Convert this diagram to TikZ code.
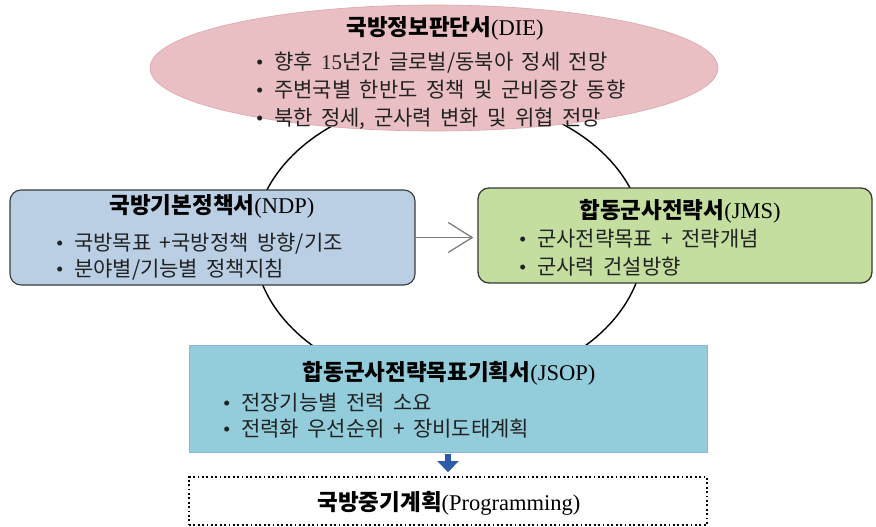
\documentclass[tikz,border=0pt]{standalone}
\usepackage{fontspec}
\setmainfont{Liberation Serif}
\newfontfamily\kr[WordSpace=1.8]{Noto Sans CJK KR}
\usetikzlibrary{arrows.meta,shapes.geometric}
\definecolor{diefill}{HTML}{E9BFC3}
\definecolor{diedraw}{HTML}{D9A6AC}
\definecolor{ndpfill}{HTML}{BACFE4}
\definecolor{jmsfill}{HTML}{C4DEA0}
\definecolor{jsopfill}{HTML}{93CDDB}
\definecolor{jsopdraw}{HTML}{8FB2E0}
\definecolor{boxdraw}{HTML}{3A3A3A}
\definecolor{txt}{HTML}{222222}
\definecolor{arrgray}{HTML}{7A7A7A}
\definecolor{arrblue}{HTML}{2C5CA9}
\begin{document}
\begin{tikzpicture}[x=1pt,y=-1pt,
  ttl/.style={anchor=base, inner sep=0pt, font=\fontsize{22.5}{26}\selectfont, text=black},
  bul/.style={anchor=base west, inner sep=0pt, font=\fontsize{21}{25}\selectfont, text=txt},
  cyc/.style={draw=black, line width=1.4pt, ellipse, inner sep=0pt},
  dieshape/.style={ellipse, fill=diefill, draw=diedraw, line width=0.6pt, inner sep=0pt},
  ndpbox/.style={rectangle, rounded corners=11pt, fill=ndpfill, draw=boxdraw, line width=1.1pt, inner sep=0pt},
  jmsbox/.style={rectangle, rounded corners=11pt, fill=jmsfill, draw=boxdraw, line width=1.3pt, inner sep=0pt},
  jsopbox/.style={rectangle, fill=jsopfill, draw=jsopdraw, line width=1pt, inner sep=0pt},
  progbox/.style={rectangle, draw=black, line width=1.8pt, dash pattern=on 1.8pt off 2.6pt, inner sep=0pt},
  grayarr/.style={draw=arrgray, line width=1.2pt, -{Straight Barb[length=24pt,width=30pt,line width=1.2pt]}, shorten >=4pt},
  bluearr/.style={draw=arrblue, line width=6pt, -{Triangle[length=11pt,width=21pt]}, shorten <=1pt, shorten >=4pt}
]
\useasboundingbox (0,0) rectangle (876,527);
\fill[white] (0,0) rectangle (876,527);

% cycle
\node[cyc, minimum width=390pt, minimum height=290pt] (cycle) at (449,242) {};

% DIE
\node[dieshape, minimum width=568pt, minimum height=126pt] (die) at (434,68) {};
\node[ttl] (dieT) at (445,36) {{\kr\bfseries 국방정보판단서}(DIE)};
\node[bul] (die1) at (256,70) {•\ \ {\kr 향후 }15{\kr 년간 글로벌/동북아 정세 전망}};
\node[bul] (die2) at (256,98) {•\ \ {\kr 주변국별 한반도 정책 및 군비증강 동향}};
\node[bul] (die3) at (256,125) {•\ \ {\kr 북한 정세, 군사력 변화 및 위협 전망}};

% NDP
\node[ndpbox, minimum width=405pt, minimum height=95pt] (ndp) at (212.5,237.5) {};
\node[ttl] (ndpT) at (212,213) {{\kr\bfseries 국방기본정책서}(NDP)};
\node[bul] (ndp1) at (56,250) {•\ \ {\kr 국방목표 +국방정책 방향/기조}};
\node[bul] (ndp2) at (56,276) {•\ \ {\kr 분야별/기능별 정책지침}};

% JMS
\node[jmsbox, minimum width=394pt, minimum height=95pt] (jms) at (675,235.5) {};
\node[ttl] (jmsT) at (680,218) {{\kr\bfseries 합동군사전략서}(JMS)};
\node[bul] (jms1) at (519,246) {•\ \ {\kr 군사전략목표 + 전략개념}};
\node[bul] (jms2) at (519,274) {•\ \ {\kr 군사력 건설방향}};

% arrow NDP -> JMS
\draw[grayarr] (ndp.east) -- (ndp.east -| jms.west);

% JSOP
\node[jsopbox, minimum width=518pt, minimum height=107pt] (jsop) at (448,398.5) {};
\node[ttl] (jsopT) at (449,380) {{\kr\bfseries 합동군사전략목표기획서}(JSOP)};
\node[bul] (jsop1) at (223,410) {•\ \ {\kr 전장기능별 전력 소요}};
\node[bul] (jsop2) at (223,436) {•\ \ {\kr 전력화 우선순위 + 장비도태계획}};

% Programming
\node[progbox, minimum width=518pt, minimum height=48pt] (prog) at (448,501) {};
\node[ttl] (progT) at (449,510) {{\kr\bfseries 국방중기계획}(Programming)};

% blue arrow
\draw[bluearr] (jsop.south) -- (prog.north);
\end{tikzpicture}
\end{document}
